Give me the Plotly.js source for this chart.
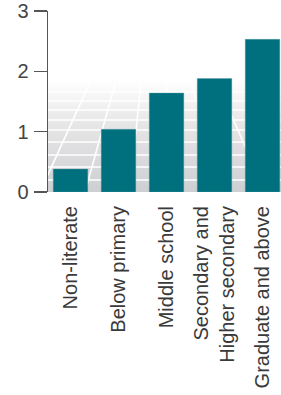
<!DOCTYPE html>
<html>
<head>
<meta charset="utf-8">
<script src="https://cdn.plot.ly/plotly-3.0.1.min.js"></script>
<style>html,body{margin:0;padding:0;background:#fff;}#chart{width:281px;height:395px;}</style>
</head>
<body>
<div id="chart"></div>
<script>
// Data
const categories = ["Non-literate", "Below primary", "Middle school", "Secondary and<br>Higher secondary", "Graduate and above"];
const values = [0.38, 1.04, 1.64, 1.88, 2.53];
const yTickValues = [0, 1, 2, 3];
const yTickLabels = ["0", "1", "2", "3"];

// Decorative perspective "floor" background
const floorTop = 1.856; // value where the floor fades out
const W = 233, H = 112;
let svg = '<svg xmlns="http://www.w3.org/2000/svg" width="' + W + '" height="' + H + '" viewBox="0 0 ' + W + ' ' + H + '">' +
  '<defs><linearGradient id="g" x1="0" y1="0" x2="0" y2="1">' +
  '<stop offset="0" stop-color="#ffffff"/><stop offset="0.4" stop-color="#e6e6e7"/><stop offset="1" stop-color="#cecfd1"/>' +
  '</linearGradient></defs>' +
  '<rect x="0" y="0" width="' + W + '" height="' + H + '" fill="url(#g)"/>';
[12, 21, 30, 40, 50, 62, 75, 87, 100].forEach(function (yy) {
  svg += '<line x1="0" y1="' + yy + '" x2="' + W + '" y2="' + yy + '" stroke="#ffffff" stroke-width="1.6"/>';
});
[-8, 37, 82, 127, 172, 217].forEach(function (xx) {
  svg += '<line x1="107" y1="-140" x2="' + xx + '" y2="' + H + '" stroke="#ffffff" stroke-width="1.6"/>';
});
svg += '</svg>';
const floorSrc = 'data:image/svg+xml;charset=utf-8,' + encodeURIComponent(svg);

const trace = {
  type: 'bar',
  x: categories,
  y: values,
  marker: { color: '#006f7e', line: { color: 'rgba(90,160,170,0.6)', width: 0.6 } },
  width: 0.72,
  hoverinfo: 'none'
};

const layout = {
  width: 281,
  height: 395,
  margin: { l: 48, r: 0, t: 11, b: 203, pad: 0 },
  paper_bgcolor: '#ffffff',
  plot_bgcolor: 'rgba(0,0,0,0)',
  showlegend: false,
  xaxis: {
    type: 'category',
    range: [-0.469, 4.385],
    showline: false,
    showgrid: false,
    zeroline: false,
    ticks: '',
    tickangle: -90,
    ticklabelstandoff: 9,
    tickfont: { family: 'Liberation Sans, Arial, sans-serif', size: 20, color: '#3a3a3a' }
  },
  yaxis: {
    range: [0, 3],
    tickvals: yTickValues,
    ticktext: yTickLabels,
    showline: true,
    linecolor: '#555555',
    linewidth: 1.5,
    ticks: 'outside',
    ticklen: 13,
    tickwidth: 1.5,
    tickcolor: '#555555',
    showgrid: false,
    zeroline: false,
    ticklabelstandoff: 1,
    tickfont: { family: 'Liberation Sans, Arial, sans-serif', size: 20, color: '#444444' }
  },
  images: [{
    source: floorSrc,
    xref: 'paper', yref: 'y',
    x: 0, y: floorTop,
    sizex: 1, sizey: floorTop,
    xanchor: 'left', yanchor: 'top',
    sizing: 'stretch',
    layer: 'below'
  }]
};

Plotly.newPlot('chart', [trace], layout, { staticPlot: true, displayModeBar: false });
</script>
</body>
</html>
